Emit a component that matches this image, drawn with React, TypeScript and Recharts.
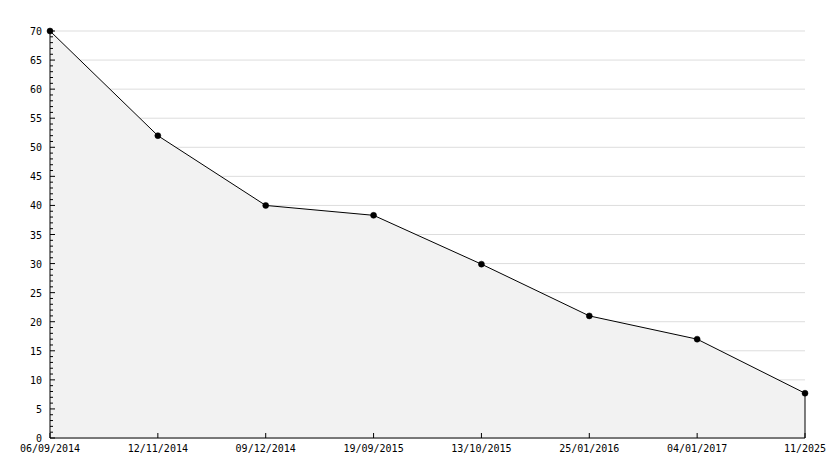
import { AreaChart, Area, XAxis, YAxis, CartesianGrid, ReferenceLine } from 'recharts';

const DATES = ['06/09/2014', '12/11/2014', '09/12/2014', '19/09/2015', '13/10/2015', '25/01/2016', '04/01/2017', '11/2025'];
const VALUES = [70, 52, 40, 38.3, 29.9, 21, 17, 7.7];
const MAJOR_TICKS = [0, 5, 10, 15, 20, 25, 30, 35, 40, 45, 50, 55, 60, 65, 70];
const ALL_TICKS = Array.from({ length: 71 }, (_, i) => i);

const data = DATES.map((d, i) => ({ d, v: VALUES[i] }));
const FONT = '"DejaVu Sans Mono", monospace';

const YTick = (props: any) => {
  const { x, y, payload } = props;
  const major = payload.value % 5 === 0;
  return (
    <g>
      <line x1={x} y1={y} x2={x + (major ? 5 : 3)} y2={y} stroke="#000" />
      {major && (
        <text x={x - 8} y={y + 4} textAnchor="end" fontSize={10} fontFamily={FONT} fill="#000">
          {payload.value}
        </text>
      )}
    </g>
  );
};

const XTick = (props: any) => {
  const { x, y, payload } = props;
  return (
    <g>
      <line x1={x} y1={y} x2={x} y2={y - 5} stroke="#000" />
      <text x={x} y={y + 14} textAnchor="middle" fontSize={10} fontFamily={FONT} fill="#000">
        {payload.value}
      </text>
    </g>
  );
};

export default function App() {
  const last = DATES[DATES.length - 1];
  return (
    <div style={{ position: 'absolute', left: 0, top: 0, width: 834, height: 468, background: '#fff' }}>
      <AreaChart width={834} height={468} data={data} margin={{ top: 31, right: 29, bottom: 0, left: 0 }}>
        <CartesianGrid vertical={false} stroke="#dddddd" horizontalValues={MAJOR_TICKS} />
        <XAxis dataKey="d" height={30} interval={0} tickSize={0} tickMargin={0} tick={<XTick />} tickLine={false} axisLine={{ stroke: '#000' }} />
        <YAxis width={50} domain={[0, 70]} ticks={ALL_TICKS} interval={0} tickSize={0} tickMargin={0} tick={<YTick />} tickLine={false} axisLine={{ stroke: '#000' }} />
        <Area type="linear" dataKey="v" stroke="#000" strokeWidth={1} fill="#f2f2f2" fillOpacity={1}
          dot={{ r: 3, fill: '#000', stroke: '#000', strokeWidth: 0.5 }} activeDot={false} isAnimationActive={false} />
        <ReferenceLine segment={[{ x: last, y: 0 }, { x: last, y: VALUES[VALUES.length - 1] }]} stroke="#000" />
      </AreaChart>
    </div>
  );
}
